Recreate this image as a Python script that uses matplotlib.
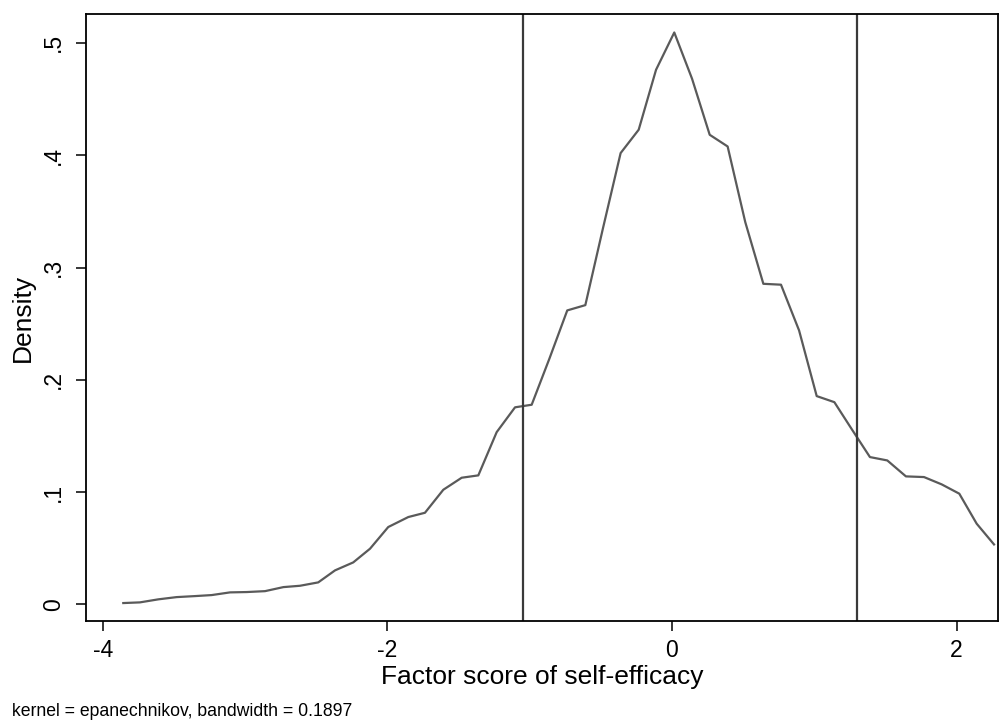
import matplotlib
matplotlib.use("Agg")
import matplotlib.pyplot as plt

plt.rcParams['font.family'] = ['Liberation Sans', 'DejaVu Sans']

# kernel density estimate
score = [-3.856, -3.739, -3.610, -3.481, -3.352, -3.235, -3.106, -2.989, -2.860, -2.731,
         -2.614, -2.486, -2.368, -2.240, -2.122, -1.994, -1.853, -1.736, -1.607, -1.478,
         -1.361, -1.232, -1.103, -0.986, -0.861, -0.736, -0.609, -0.485, -0.361, -0.234,
         -0.112, 0.016, 0.141, 0.265, 0.391, 0.515, 0.642, 0.766, 0.893, 1.017,
         1.141, 1.265, 1.391, 1.513, 1.644, 1.771, 1.895, 2.019, 2.141, 2.263]
density = [0.0012, 0.0018, 0.0045, 0.0065, 0.0074, 0.0083, 0.0107, 0.0110, 0.0118, 0.0154,
           0.0166, 0.0196, 0.0303, 0.0374, 0.0496, 0.0689, 0.0778, 0.0816, 0.1021, 0.1128,
           0.1149, 0.1534, 0.1755, 0.1778, 0.2190, 0.2618, 0.2665, 0.3350, 0.4019, 0.4227,
           0.4761, 0.5093, 0.4681, 0.4182, 0.4078, 0.3404, 0.2855, 0.2847, 0.2440, 0.1855,
           0.1801, 0.1557, 0.1312, 0.1282, 0.1140, 0.1134, 0.1069, 0.0986, 0.0719, 0.0534]
cutoffs = [-1.05, 1.30]

xticks = [-4, -2, 0, 2]
yticks = [0, 0.1, 0.2, 0.3, 0.4, 0.5]
ylabels = ['0', '.1', '.2', '.3', '.4', '.5']

fig = plt.figure(figsize=(10, 7.2), dpi=100)
ax = fig.add_axes([0.086, 0.137, 0.912, 0.843])

ax.plot(score, density, color='#5a5a5a', lw=1.6)
for c in cutoffs:
    ax.axvline(c, color='#3a3a3a', lw=1.6)

ax.set_xlim(-4.118, 2.291)
ax.set_ylim(-0.0151, 0.5254)
ax.set_xticks(xticks)
ax.set_xticklabels([str(t) for t in xticks])
ax.set_yticks(yticks)
ax.set_yticklabels(ylabels, rotation=90, va='center')
ax.tick_params(direction='out', length=7, width=1.1, labelsize=16.5)
ax.tick_params(axis='x', pad=6)
ax.tick_params(axis='y', pad=8)
for s in ax.spines.values():
    s.set_linewidth(1.3)

ax.set_xlabel('Factor score of self-efficacy', fontsize=19, labelpad=2)
ax.set_ylabel('Density', fontsize=19, labelpad=5)
fig.text(0.012, 0.006, 'kernel = epanechnikov, bandwidth = 0.1897', fontsize=12.7)

fig.savefig('out.png', dpi=100, facecolor='white')
